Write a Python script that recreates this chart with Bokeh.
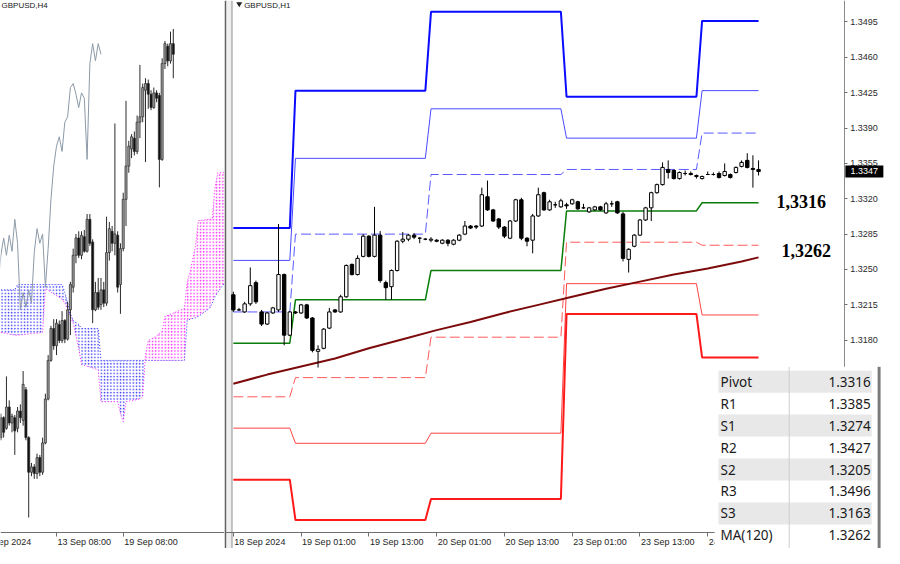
from bokeh.plotting import figure
from bokeh.layouts import row
from bokeh.models import Range1d, LinearAxis, FixedTicker, PrintfTickFormatter, ColumnDataSource
from bokeh.core.properties import value
from bokeh.embed import file_html
from bokeh.resources import INLINE

# ---------------- H1 panel (GBPUSD,H1), bar index 0 = 18 Sep 13:00 ----------------
h1_open = [1.3225, 1.3210, 1.3208, 1.3216, 1.3237, 1.3208, 1.3196, 1.3207, 1.3210, 1.3245,
           1.3185, 1.3208, 1.3207, 1.3215, 1.3202, 1.3169, 1.3172, 1.3192, 1.3210, 1.3208,
           1.3223, 1.3255, 1.3245, 1.3263, 1.3283, 1.3263, 1.3284, 1.3237, 1.3233, 1.3249,
           1.3278, 1.3280, 1.3284, 1.3281, 1.3280, 1.3279, 1.3279, 1.3276, 1.3279, 1.3275,
           1.3279, 1.3285, 1.3293, 1.3293, 1.3293, 1.3322, 1.3309, 1.3300, 1.3292, 1.3281,
           1.3298, 1.3319, 1.3281, 1.3279, 1.3303, 1.3326, 1.3309, 1.3314, 1.3312, 1.3314,
           1.3315, 1.3317, 1.3311, 1.3307, 1.3309, 1.3312, 1.3306, 1.3315, 1.3317, 1.3305,
           1.3260, 1.3273, 1.3284, 1.3299, 1.3311, 1.3326, 1.3334, 1.3349, 1.3348, 1.3340,
           1.3345, 1.3345, 1.3343, 1.3340, 1.3344, 1.3344, 1.3345, 1.3343, 1.3344, 1.3346,
           1.3352, 1.3358, 1.3350, 1.3349]
h1_high = [1.3228, 1.3212, 1.3218, 1.3252, 1.3239, 1.3210, 1.3208, 1.3213, 1.3295, 1.3246,
           1.3209, 1.3209, 1.3216, 1.3216, 1.3203, 1.3175, 1.3192, 1.3212, 1.3211, 1.3225,
           1.3255, 1.3256, 1.3264, 1.3285, 1.3284, 1.3312, 1.3288, 1.3239, 1.3250, 1.3279,
           1.3287, 1.3285, 1.3286, 1.3282, 1.3281, 1.3282, 1.3280, 1.3280, 1.3280, 1.3280,
           1.3285, 1.3298, 1.3294, 1.3294, 1.3331, 1.3338, 1.3310, 1.3301, 1.3293, 1.3299,
           1.3320, 1.3321, 1.3282, 1.3305, 1.3331, 1.3327, 1.3319, 1.3317, 1.3320, 1.3316,
           1.3320, 1.3318, 1.3315, 1.3312, 1.3313, 1.3313, 1.3317, 1.3318, 1.3318, 1.3307,
           1.3271, 1.3285, 1.3300, 1.3312, 1.3327, 1.3335, 1.3356, 1.3358, 1.3349, 1.3347,
           1.3348, 1.3347, 1.3344, 1.3343, 1.3347, 1.3346, 1.3347, 1.3355, 1.3345, 1.3352,
           1.3358, 1.3365, 1.3363, 1.3358]
h1_low = [1.3208, 1.3209, 1.3207, 1.3214, 1.3216, 1.3194, 1.3195, 1.3206, 1.3208, 1.3175,
          1.3184, 1.3206, 1.3206, 1.3201, 1.3168, 1.3153, 1.3171, 1.3191, 1.3207, 1.3207,
          1.3222, 1.3244, 1.3244, 1.3262, 1.3262, 1.3262, 1.3237, 1.3220, 1.3220, 1.3248,
          1.3276, 1.3278, 1.3280, 1.3276, 1.3279, 1.3277, 1.3277, 1.3275, 1.3273, 1.3274,
          1.3278, 1.3284, 1.3290, 1.3290, 1.3292, 1.3308, 1.3297, 1.3290, 1.3281, 1.3280,
          1.3297, 1.3279, 1.3273, 1.3266, 1.3302, 1.3308, 1.3308, 1.3311, 1.3311, 1.3310,
          1.3314, 1.3309, 1.3310, 1.3306, 1.3308, 1.3308, 1.3305, 1.3312, 1.3305, 1.3258,
          1.3247, 1.3272, 1.3283, 1.3298, 1.3298, 1.3325, 1.3333, 1.3340, 1.3339, 1.3339,
          1.3343, 1.3343, 1.3340, 1.3339, 1.3344, 1.3343, 1.3340, 1.3342, 1.3340, 1.3345,
          1.3351, 1.3350, 1.3331, 1.3343]
h1_close = [1.3210, 1.3210, 1.3216, 1.3234, 1.3218, 1.3196, 1.3207, 1.3212, 1.3245, 1.3185,
            1.3208, 1.3207, 1.3215, 1.3202, 1.3170, 1.3171, 1.3191, 1.3208, 1.3208, 1.3223,
            1.3254, 1.3245, 1.3261, 1.3283, 1.3263, 1.3284, 1.3239, 1.3232, 1.3249, 1.3278,
            1.3280, 1.3284, 1.3282, 1.3281, 1.3280, 1.3280, 1.3278, 1.3279, 1.3276, 1.3279,
            1.3284, 1.3293, 1.3291, 1.3292, 1.3324, 1.3309, 1.3298, 1.3292, 1.3283, 1.3298,
            1.3319, 1.3281, 1.3278, 1.3303, 1.3324, 1.3309, 1.3317, 1.3314, 1.3318, 1.3313,
            1.3319, 1.3310, 1.3311, 1.3311, 1.3312, 1.3309, 1.3315, 1.3315, 1.3306, 1.3261,
            1.3270, 1.3284, 1.3299, 1.3311, 1.3326, 1.3334, 1.3351, 1.3346, 1.3340, 1.3346,
            1.3345, 1.3344, 1.3342, 1.3342, 1.3344, 1.3344, 1.3341, 1.3347, 1.3341, 1.3351,
            1.3356, 1.3351, 1.3349, 1.3347]
h1_tick_bars = [0, 12, 24, 36, 48, 60, 72, 84]
h1_tick_labels = ["18 Sep 2024", "19 Sep 01:00", "19 Sep 13:00", "20 Sep 01:00",
                  "20 Sep 13:00", "23 Sep 01:00", "23 Sep 13:00", "24 Sep 01:00"]
price_ticks = [1.3180, 1.3215, 1.3250, 1.3285, 1.3320, 1.3355, 1.3390, 1.3425, 1.3460, 1.3495]

# daily pivot levels (18, 19, 20, 23, 24 Sep)
day_start = [0, 11, 35, 59, 83]
day_end = [10, 34, 58, 82, 93]
lvl_R3 = [1.3291, 1.3427, 1.3505, 1.3421, 1.3496]
lvl_R2 = [1.3259, 1.3360, 1.3409, 1.3380, 1.3427]
lvl_R1 = [1.3208, 1.3285, 1.3344, 1.3349, 1.3385]
lvl_PP = [1.3177, 1.3220, 1.3249, 1.3308, 1.3316]
lvl_S1 = [1.3124, 1.3143, 1.3183, 1.3277, 1.3274]
lvl_S2 = [1.3093, 1.3078, 1.3088, 1.3236, 1.3205]
lvl_S3 = [1.3042, 1.3002, 1.3023, 1.3206, 1.3163]

# MA(120)
ma_bars = [0, 6, 12, 18, 24, 30, 36, 42, 48, 54, 60, 66, 72, 78, 84, 90, 93]
ma_vals = [1.3137, 1.3146, 1.3154, 1.3162, 1.3172, 1.3181, 1.3190, 1.3198, 1.3207, 1.3215,
           1.3223, 1.3231, 1.3238, 1.3245, 1.3251, 1.3258, 1.3262]

table_labels = ["Pivot", "R1", "S1", "R2", "S2", "R3", "S3", "MA(120)"]
table_values = [lvl_PP[-1], lvl_R1[-1], lvl_S1[-1], lvl_R2[-1], lvl_S2[-1], lvl_R3[-1], lvl_S3[-1], ma_vals[-1]]

# ---------------- H4 panel (GBPUSD,H4), index 0 = 13 Sep 08:00 ----------------
h4_first = -20
h4_open = [1.3060, 1.3075, 1.3067, 1.3083, 1.3071, 1.3075, 1.3067, 1.3080, 1.3073, 1.3096,
           1.3060, 1.3034, 1.3038, 1.3033, 1.3045, 1.3034, 1.3056, 1.3089, 1.3118, 1.3142,
           1.3129, 1.3145, 1.3133, 1.3148, 1.3134, 1.3156, 1.3173, 1.3197, 1.3210, 1.3197,
           1.3211, 1.3200, 1.3224, 1.3207, 1.3156, 1.3169, 1.3160, 1.3171, 1.3161, 1.3199,
           1.3215, 1.3206, 1.3212, 1.3175, 1.3202, 1.3239, 1.3264, 1.3277, 1.3285, 1.3275,
           1.3297, 1.3301, 1.3321, 1.3326, 1.3318, 1.3308, 1.3319, 1.3317, 1.3269, 1.3341,
           1.3354, 1.3343, 1.3356]
h4_high = [1.3078, 1.3076, 1.3106, 1.3088, 1.3078, 1.3077, 1.3083, 1.3085, 1.3110, 1.3098,
           1.3061, 1.3041, 1.3040, 1.3048, 1.3047, 1.3060, 1.3093, 1.3122, 1.3144, 1.3149,
           1.3149, 1.3148, 1.3155, 1.3149, 1.3162, 1.3177, 1.3202, 1.3213, 1.3215, 1.3215,
           1.3216, 1.3228, 1.3228, 1.3209, 1.3177, 1.3180, 1.3180, 1.3177, 1.3226, 1.3222,
           1.3219, 1.3296, 1.3215, 1.3206, 1.3244, 1.3313, 1.3283, 1.3288, 1.3290, 1.3302,
           1.3340, 1.3326, 1.3330, 1.3329, 1.3321, 1.3323, 1.3321, 1.3319, 1.3345, 1.3358,
           1.3356, 1.3365, 1.3367]
h4_low = [1.3058, 1.3060, 1.3066, 1.3069, 1.3064, 1.3047, 1.3064, 1.3071, 1.3069, 1.3058,
          1.3000, 1.3031, 1.3029, 1.3029, 1.3031, 1.3032, 1.3055, 1.3088, 1.3117, 1.3126,
          1.3122, 1.3131, 1.3131, 1.3131, 1.3133, 1.3137, 1.3169, 1.3191, 1.3195, 1.3194,
          1.3199, 1.3199, 1.3204, 1.3146, 1.3155, 1.3156, 1.3156, 1.3158, 1.3159, 1.3193,
          1.3200, 1.3197, 1.3169, 1.3153, 1.3200, 1.3219, 1.3259, 1.3270, 1.3272, 1.3273,
          1.3285, 1.3297, 1.3267, 1.3307, 1.3306, 1.3307, 1.3312, 1.3248, 1.3268, 1.3337,
          1.3339, 1.3341, 1.3330]
h4_close = [1.3075, 1.3064, 1.3083, 1.3071, 1.3076, 1.3065, 1.3080, 1.3075, 1.3100, 1.3060,
            1.3034, 1.3038, 1.3033, 1.3045, 1.3034, 1.3056, 1.3089, 1.3118, 1.3142, 1.3129,
            1.3146, 1.3133, 1.3148, 1.3134, 1.3156, 1.3175, 1.3197, 1.3210, 1.3197, 1.3212,
            1.3200, 1.3224, 1.3206, 1.3156, 1.3169, 1.3158, 1.3171, 1.3161, 1.3199, 1.3217,
            1.3206, 1.3213, 1.3173, 1.3202, 1.3239, 1.3264, 1.3279, 1.3286, 1.3275, 1.3297,
            1.3301, 1.3323, 1.3326, 1.3318, 1.3308, 1.3319, 1.3315, 1.3269, 1.3341, 1.3356,
            1.3343, 1.3356, 1.3348]
chikou_shift = 26
cloud_j = [-20, -15, -14, -5, -4, 2, 3, 5, 6, 8, 9, 15, 16, 22, 23, 24, 25, 30, 31, 32,
           33, 35, 38, 39, 46, 47, 48, 50, 51, 55, 56, 57, 58, 60, 62]
senkou_a = [1.3171, 1.3171, 1.3175, 1.3175, 1.3175, 1.3175, 1.3169, 1.3153, 1.3148, 1.3145,
            1.3142, 1.3142, 1.3118, 1.3118, 1.3118, 1.3118, 1.3118, 1.3118, 1.3118, 1.3118,
            1.3118, 1.3118, 1.3118, 1.3118, 1.3118, 1.3148, 1.3149, 1.3150, 1.3151, 1.3157,
            1.3161, 1.3166, 1.3169, 1.3175, 1.3177]
senkou_b = [1.3139, 1.3137, 1.3137, 1.3139, 1.3172, 1.3164, 1.3161, 1.3151, 1.3146, 1.3127,
            1.3115, 1.3111, 1.3087, 1.3087, 1.3078, 1.3072, 1.3087, 1.3089, 1.3091, 1.3122,
            1.3133, 1.3135, 1.3140, 1.3151, 1.3157, 1.3177, 1.3184, 1.3204, 1.3223, 1.3224,
            1.3224, 1.3248, 1.3259, 1.3259, 1.3259]
cloud_split = 19
h4_tick_j = [-26, 0, 24]
h4_tick_labels = ["9 Sep 2024", "13 Sep 08:00", "19 Sep 08:00"]

# ---------------- layout geometry (reference pixels -> data) ----------------
REF_W, REF_H, SPLIT = 900.0, 564.0, 228.0
LEFT_W, RIGHT_W, H = 224, 660, 548
RX0, RX1 = -1.565, 115.30
RY0, RY1 = 1.29739, 1.35162
LX0, LX1 = -20.14, 60.42
LY0, LY1 = 1.29767, 1.33884


def rx(px):
    return RX0 + (px - SPLIT) / (REF_W - SPLIT) * (RX1 - RX0)


def ry(py):
    return RY1 - py / REF_H * (RY1 - RY0)


def lx(px):
    return LX0 + px / SPLIT * (LX1 - LX0)


def ly(py):
    return LY1 - py / REF_H * (LY1 - LY0)


AX_FONT = "Liberation Sans"


def style_xaxis(ax):
    ax.axis_line_color = "#6e6e6e"
    ax.major_tick_line_color = "#6e6e6e"
    ax.major_tick_out = 4
    ax.major_tick_in = 0
    ax.minor_tick_line_color = None
    ax.major_label_text_color = None


def axis_labels(fig, ticks, labels, y):
    # MT4 style: label starts at its tick
    fig.text(x=ticks, y=[y] * len(ticks), text=labels, text_font=value(AX_FONT),
             text_font_size="9px", text_align="left", text_baseline="top",
             text_color="#1e1e1e", x_offset=1, y_offset=4)


def make_fig(w, xr, yr):
    f = figure(width=w, height=H, x_range=Range1d(*xr), y_range=Range1d(*yr),
               x_axis_location=None, y_axis_location=None, toolbar_location=None,
               output_backend="svg", min_border=0)
    f.outline_line_color = None
    f.grid.visible = False
    f.background_fill_color = "white"
    f.border_fill_color = "white"
    return f


# ================= LEFT: H4 =================
pl = make_fig(LEFT_W, (LX0, LX1), (LY0, LY1))
h4_idx = list(range(h4_first, h4_first + len(h4_open)))

# Ichimoku cloud
bj, ba, bb = cloud_j[:cloud_split + 1], senkou_a[:cloud_split + 1], senkou_b[:cloud_split + 1]
mj, ma_, mb = cloud_j[cloud_split:], senkou_a[cloud_split:], senkou_b[cloud_split:]
pl.varea(x=bj, y1=ba, y2=bb, fill_alpha=0, hatch_pattern="dot", hatch_color="#3333ff",
         hatch_scale=3.2, hatch_weight=1.2)
pl.varea(x=mj, y1=ma_, y2=mb, fill_alpha=0, hatch_pattern="dot", hatch_color="#ff22ff",
         hatch_scale=3.2, hatch_weight=1.2)
pl.line(cloud_j, senkou_a, line_color="#3333ff", line_width=1, line_dash="1 2")
pl.line(cloud_j, senkou_b, line_color="#ff22ff", line_width=1, line_dash="1 2")

# Chikou span (close shifted back)
pl.line([j - chikou_shift for j in h4_idx], h4_close, line_color="#8d9aa8", line_width=1)

# candles
h4_src = ColumnDataSource(dict(
    x=h4_idx, hi=h4_high, lo=h4_low,
    top=[max(o, c) for o, c in zip(h4_open, h4_close)],
    bot=[min(o, c) for o, c in zip(h4_open, h4_close)],
    col=["#9a9a9a" if c >= o else "#101010" for o, c in zip(h4_open, h4_close)]))
pl.segment(x0="x", y0="hi", x1="x", y1="lo", source=h4_src, line_color="#2a2a2a", line_width=1)
pl.vbar(x="x", top="top", bottom="bot", width=0.75, source=h4_src, fill_color="col",
        line_color="#2a2a2a", line_width=0.7)

pl.text(x=[lx(1)], y=[ly(0.5)], text=["GBPUSD,H4"], text_font=value(AX_FONT),
        text_font_size="8px", text_baseline="top", text_color="#202020")

lxa = LinearAxis(fixed_location=ly(548), ticker=FixedTicker(ticks=h4_tick_j), bounds=(LX0, LX1))
style_xaxis(lxa)
pl.add_layout(lxa, "below")
axis_labels(pl, h4_tick_j, h4_tick_labels, ly(548))

# ================= RIGHT: H1 =================
p = make_fig(RIGHT_W, (RX0, RX1), (RY0, RY1))

# separator between panels
p.quad(left=[rx(228)], right=[rx(230)], top=[RY1], bottom=[RY0], fill_color="#5f5f5f", line_color=None)
p.quad(left=[rx(230)], right=[rx(235)], top=[RY1], bottom=[RY0], fill_color="#efefef", line_color=None)
p.quad(left=[rx(235)], right=[rx(236.2)], top=[RY1], bottom=[RY0], fill_color="#9a9a9a", line_color=None)


def level_path(levels):
    xs, ys = [], []
    for s, e, v in zip(day_start, day_end, levels):
        xs += [s, e]
        ys += [v, v]
    return xs, ys


for lv, col, w, dash in [(lvl_R3, "#0b0bff", 2, "solid"), (lvl_R2, "#4a4aff", 1, "solid"),
                         (lvl_R1, "#5a5aff", 1, "10 4"), (lvl_S1, "#ff5a5a", 1, "10 4"),
                         (lvl_S2, "#ff4444", 1, "solid"), (lvl_S3, "#ff1a1a", 2, "solid"),
                         (lvl_PP, "#0a7d0a", 1.5, "solid")]:
    xs, ys = level_path(lv)
    p.line(xs, ys, line_color=col, line_width=w, line_dash=dash)

p.line(ma_bars, ma_vals, line_color="#7d0a0a", line_width=2)

h1_idx = list(range(len(h1_open)))
h1_src = ColumnDataSource(dict(
    x=h1_idx, hi=h1_high, lo=h1_low,
    top=[max(o, c) for o, c in zip(h1_open, h1_close)],
    bot=[min(o, c) for o, c in zip(h1_open, h1_close)],
    col=["white" if c >= o else "black" for o, c in zip(h1_open, h1_close)]))
p.segment(x0="x", y0="hi", x1="x", y1="lo", source=h1_src, line_color="black", line_width=1)
p.vbar(x="x", top="top", bottom="bot", width=0.6, source=h1_src, fill_color="col",
       line_color="black", line_width=1)

# level labels
p.text(x=[rx(790)], y=[lvl_PP[-1]], text=[f"{lvl_PP[-1]:.4f}".replace(".", ",")],
       text_font=value("Liberation Serif"), text_font_style="bold", text_font_size="18px",
       text_baseline="middle", text_color="black", y_offset=-1)
p.text(x=[rx(795)], y=[ma_vals[-1]], text=[f"{ma_vals[-1]:.4f}".replace(".", ",")],
       text_font=value("Liberation Serif"), text_font_style="bold", text_font_size="18px",
       text_baseline="middle", text_color="black", y_offset=-7)

# title
p.scatter(x=[rx(243)], y=[ry(3.5)], marker="inverted_triangle", size=6, fill_color="#202020",
          line_color=None)
p.text(x=[rx(248)], y=[ry(0.5)], text=["GBPUSD,H1"], text_font=value(AX_FONT),
       text_font_size="8px", text_baseline="top", text_color="#202020")

# axes
xa = LinearAxis(fixed_location=ry(548), ticker=FixedTicker(ticks=h1_tick_bars), bounds=(RX0, rx(859)))
style_xaxis(xa)
p.add_layout(xa, "below")
axis_labels(p, h1_tick_bars, h1_tick_labels, ry(548))

ya = LinearAxis(fixed_location=rx(859), ticker=FixedTicker(ticks=price_ticks),
                formatter=PrintfTickFormatter(format="%.4f"), bounds=(ry(548), RY1))
ya.axis_line_color = "#8a8a8a"
ya.major_tick_line_color = "#6e6e6e"
ya.major_tick_out = 3
ya.major_tick_in = 0
ya.minor_tick_line_color = None
ya.major_label_text_font = AX_FONT
ya.major_label_text_font_size = "9px"
ya.major_label_text_color = "#2a2a2a"
ya.major_label_standoff = 3
p.add_layout(ya, "right")

# current price box
p.rect(x=[rx(879.5)], y=[h1_close[-1]], width=38, height=12, width_units="screen",
       height_units="screen", fill_color="black", line_color=None, level="overlay")
p.text(x=[rx(879.5)], y=[h1_close[-1]], text=[f"{h1_close[-1]:.4f}"], text_font=value(AX_FONT),
       text_font_size="9px", text_align="center", text_baseline="middle", text_color="white",
       level="overlay")

# value table (overlay)
ROW0, ROW_H = 381.0, 22.6
p.quad(left=[rx(727)], right=[RX1], top=[ry(377)], bottom=[RY0], fill_color="white",
       line_color=None, level="overlay")
g_rows = [k for k in range(len(table_labels)) if k % 2 == 0]
p.quad(left=[rx(731)] * len(g_rows), right=[rx(887)] * len(g_rows),
       top=[ry(ROW0 + k * ROW_H) for k in g_rows], bottom=[ry(ROW0 + (k + 1) * ROW_H) for k in g_rows],
       fill_color="#e8e8e8", line_color=None, level="overlay")
p.segment(x0=[rx(803)], y0=[ry(377)], x1=[rx(803)], y1=[RY0], line_color="#cdcdcd",
          line_width=1, level="overlay")
p.quad(left=[rx(893)], right=[rx(896)], top=[ry(377)], bottom=[RY0], fill_color="#7a7a7a",
       line_color=None, level="overlay")
row_y = [ry(ROW0 + (k + 0.5) * ROW_H) for k in range(len(table_labels))]
p.text(x=[rx(733)] * len(table_labels), y=row_y, text=table_labels, text_font=value("Noto Sans"),
       text_font_size="13.5px", text_baseline="middle", text_color="#1a1a1a", level="overlay")
p.text(x=[rx(886)] * len(table_values), y=row_y, text=[f"{v:.4f}" for v in table_values],
       text_font=value("Noto Sans"), text_font_size="13.5px", text_align="right",
       text_baseline="middle", text_color="#1a1a1a", level="overlay")

layout = row(pl, p)
open("out.html", "w").write(file_html(layout, INLINE))
